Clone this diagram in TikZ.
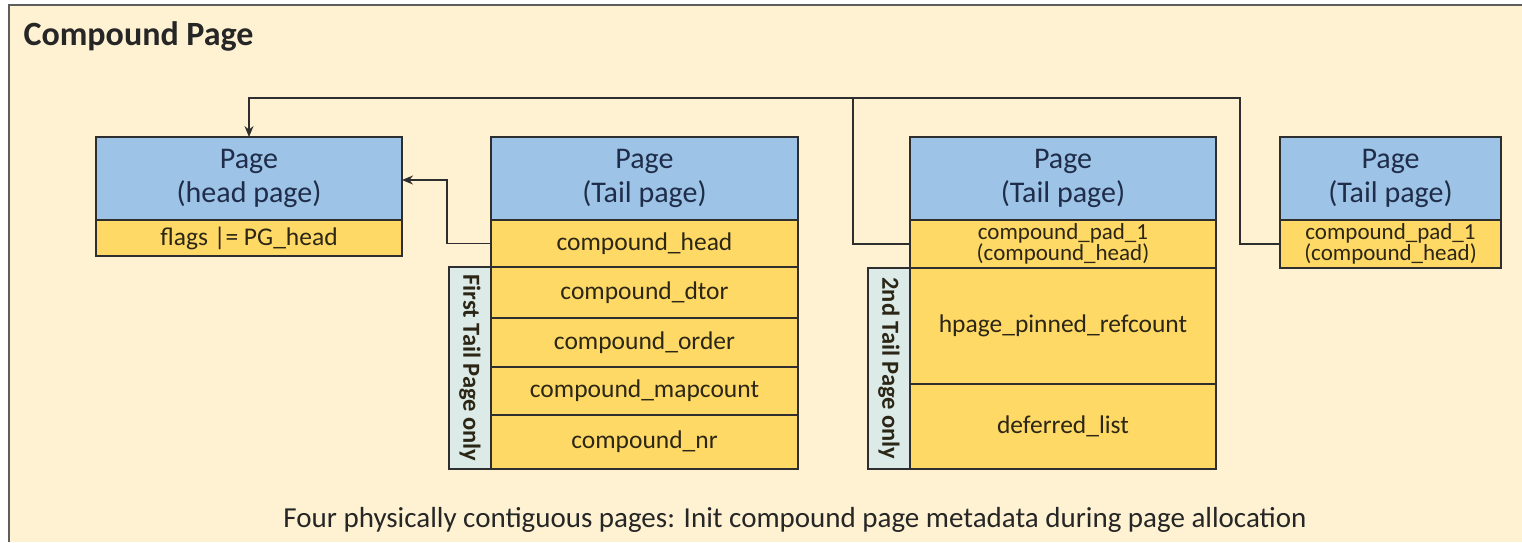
\documentclass[tikz,border=0pt]{standalone}
\usepackage{fontspec}
\setmainfont{Carlito}
\usetikzlibrary{arrows.meta}
\definecolor{paper}{HTML}{FEF2D2}
\definecolor{hdrblue}{HTML}{9DC3E6}
\definecolor{fieldyel}{HTML}{FFD966}
\definecolor{sidegray}{HTML}{DDEBE8}
\definecolor{edge}{HTML}{2E2E2E}
\definecolor{hdrtext}{HTML}{1F2D4A}
\definecolor{fieldtext}{HTML}{2B2615}
\definecolor{framegray}{HTML}{5E5E5E}
\begin{document}
\begin{tikzpicture}[x=1pt,y=-1pt,
  cell/.style={draw=edge, line width=1.5pt, inner sep=0pt, outer sep=0pt,
    align=center, anchor=north west},
  hdr/.style={cell, fill=hdrblue, text=hdrtext, font=\fontsize{30}{34}\selectfont},
  fld/.style={cell, fill=fieldyel, text=fieldtext, font=\fontsize{25.5}{29}\selectfont},
  padfld/.style={cell, fill=fieldyel, text=fieldtext, font=\fontsize{23}{20.5}\selectfont},
  side/.style={draw=edge, line width=1.5pt, fill=sidegray, inner sep=0pt,
    outer sep=0pt, rotate=-90, text=fieldtext,
    font=\bfseries\fontsize{24.5}{26}\selectfont},
  link/.style={draw=edge, line width=1.5pt},
  tip/.style={-{Stealth[length=11pt,width=9pt]}}
]
\useasboundingbox (0,0) rectangle (1522,542);
\fill[white] (0,0) rectangle (1522,542);
\fill[paper] (9,5) rectangle (1522,542);
\draw[framegray, line width=2.5pt] (9,542) -- (9,5) -- (1522,5);

% title and caption
\node[anchor=base west, font=\bfseries\fontsize{34}{38}\selectfont, text=black!85]
  (title) at (20,45) {Compound Page};
\node[anchor=base, font=\fontsize{29}{33}\selectfont, text=black!85]
  (caption) at (795,527)
  {Four physically contiguous pages: Init compound page metadata during page allocation};

% side labels of the tail pages
\node[side, minimum width=202pt, minimum height=42pt] (t1side) at (470,368)
  {First Tail Page only};
\node[side, minimum width=201pt, minimum height=42pt] (t2side) at (889,368.5)
  {2nd Tail Page only};

% head page
\node[hdr, minimum width=306pt, minimum height=83pt] (h0hdr) at (96,137)
  {Page\\(head page)};
\node[fld, minimum width=306pt, minimum height=36pt] (h0flags) at (96,220)
  {flags |= PG\_head};

% first tail page
\node[hdr, minimum width=307pt, minimum height=83pt] (t1hdr) at (491,137)
  {Page\\(Tail page)};
\node[fld, minimum width=307pt, minimum height=47pt] (t1head) at (491,220)
  {compound\_head};
\node[fld, minimum width=307pt, minimum height=51pt] (t1dtor) at (491,267)
  {compound\_dtor};
\node[fld, minimum width=307pt, minimum height=49pt] (t1order) at (491,318)
  {compound\_order};
\node[fld, minimum width=307pt, minimum height=48pt] (t1map) at (491,367)
  {compound\_mapcount};
\node[fld, minimum width=307pt, minimum height=54pt] (t1nr) at (491,415)
  {compound\_nr};

% second tail page
\node[hdr, minimum width=306pt, minimum height=83pt] (t2hdr) at (910,137)
  {Page\\(Tail page)};
\node[padfld, minimum width=306pt, minimum height=48pt] (t2pad) at (910,220)
  {compound\_pad\_1\\(compound\_head)};
\node[fld, minimum width=306pt, minimum height=116pt] (t2pin) at (910,268)
  {hpage\_pinned\_refcount};
\node[fld, minimum width=306pt, minimum height=85pt] (t2def) at (910,384)
  {deferred\_list};

% third tail page
\node[hdr, minimum width=221pt, minimum height=83pt] (t3hdr) at (1280,137)
  {Page\\(Tail page)};
\node[padfld, minimum width=221pt, minimum height=48pt] (t3pad) at (1280,220)
  {compound\_pad\_1\\(compound\_head)};

% compound_head links back to the head page
\coordinate (bus) at (853,98);
\coordinate (bend3) at (1240,98);
\coordinate (bend1) at (447,0);
\draw[link, tip] (t3pad.west) -| (bend3) -| (h0hdr.north);
\draw[link] (t2pad.west) -| (bus);
\draw[link, tip] (t1head.west) -| (bend1 |- 0,180) -- (h0hdr.east |- 0,180);
\end{tikzpicture}
\end{document}
